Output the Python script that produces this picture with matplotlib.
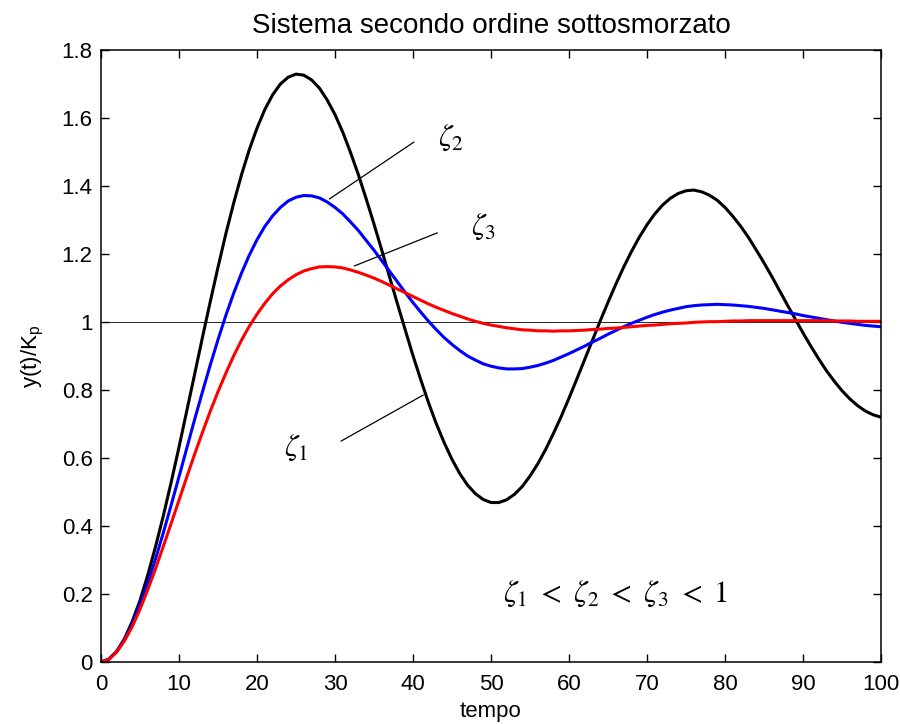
import numpy as np
import matplotlib.pyplot as plt

plt.rcParams['font.family'] = ['Liberation Sans', 'DejaVu Sans']
plt.rcParams['mathtext.fontset'] = 'stix'

# time axis and the three step responses
t = np.arange(0, 101)
y_zeta1 = [0, 0.008, 0.031, 0.068, 0.119, 0.181, 0.256, 0.340, 0.431, 0.529,
           0.632, 0.739, 0.846, 0.954, 1.059, 1.161, 1.259, 1.349, 1.432, 1.506,
           1.570, 1.625, 1.668, 1.700, 1.720, 1.729, 1.726, 1.712, 1.688, 1.653,
           1.610, 1.558, 1.498, 1.433, 1.362, 1.288, 1.211, 1.132, 1.054, 0.977,
           0.901, 0.830, 0.762, 0.700, 0.645, 0.596, 0.554, 0.520, 0.495, 0.478,
           0.469, 0.469, 0.477, 0.493, 0.516, 0.547, 0.583, 0.625, 0.672, 0.722,
           0.776, 0.832, 0.889, 0.946, 1.003, 1.058, 1.111, 1.161, 1.207, 1.249,
           1.286, 1.318, 1.344, 1.364, 1.378, 1.386, 1.388, 1.383, 1.373, 1.358,
           1.337, 1.311, 1.282, 1.249, 1.212, 1.174, 1.134, 1.092, 1.050, 1.009,
           0.968, 0.929, 0.892, 0.857, 0.826, 0.798, 0.774, 0.754, 0.738, 0.727,
           0.720]
y_zeta2 = [0, 0.008, 0.030, 0.065, 0.111, 0.168, 0.233, 0.304, 0.381, 0.462,
           0.545, 0.629, 0.713, 0.794, 0.873, 0.948, 1.019, 1.084, 1.143, 1.196,
           1.242, 1.281, 1.312, 1.337, 1.356, 1.367, 1.372, 1.371, 1.365, 1.353,
           1.337, 1.318, 1.294, 1.269, 1.240, 1.211, 1.180, 1.149, 1.118, 1.087,
           1.057, 1.029, 1.002, 0.977, 0.954, 0.934, 0.916, 0.900, 0.888, 0.877,
           0.870, 0.865, 0.862, 0.862, 0.863, 0.867, 0.872, 0.879, 0.887, 0.897,
           0.907, 0.918, 0.929, 0.941, 0.952, 0.964, 0.975, 0.986, 0.996, 1.005,
           1.014, 1.022, 1.029, 1.035, 1.040, 1.045, 1.048, 1.050, 1.051, 1.052,
           1.051, 1.050, 1.048, 1.046, 1.043, 1.040, 1.036, 1.032, 1.028, 1.024,
           1.019, 1.015, 1.011, 1.007, 1.003, 0.999, 0.996, 0.993, 0.990, 0.988,
           0.986]
y_zeta3 = [0, 0.008, 0.029, 0.062, 0.104, 0.155, 0.213, 0.275, 0.341, 0.408,
           0.476, 0.544, 0.611, 0.675, 0.737, 0.795, 0.849, 0.900, 0.946, 0.987,
           1.023, 1.055, 1.083, 1.106, 1.124, 1.139, 1.150, 1.157, 1.162, 1.163,
           1.162, 1.159, 1.153, 1.146, 1.138, 1.129, 1.119, 1.108, 1.097, 1.086,
           1.075, 1.064, 1.053, 1.043, 1.034, 1.025, 1.017, 1.009, 1.002, 0.996,
           0.991, 0.987, 0.983, 0.980, 0.977, 0.976, 0.974, 0.974, 0.973, 0.974,
           0.974, 0.975, 0.976, 0.978, 0.979, 0.981, 0.982, 0.984, 0.986, 0.988,
           0.990, 0.991, 0.993, 0.995, 0.996, 0.997, 0.999, 1.000, 1.001, 1.001,
           1.002, 1.003, 1.003, 1.004, 1.004, 1.004, 1.004, 1.004, 1.004, 1.004,
           1.004, 1.004, 1.004, 1.004, 1.003, 1.003, 1.003, 1.002, 1.002, 1.002,
           1.002]

xticks = [0, 10, 20, 30, 40, 50, 60, 70, 80, 90, 100]
yticks = [0, 0.2, 0.4, 0.6, 0.8, 1.0, 1.2, 1.4, 1.6, 1.8]
ytick_labels = ['0', '0.2', '0.4', '0.6', '0.8', '1', '1.2', '1.4', '1.6', '1.8']

# annotation pointers: (label, label pos, line start, line end)
notes = [
    (r'$\zeta_2$', (43.2, 1.54), (29.3, 1.362), (40.1, 1.529)),
    (r'$\zeta_3$', (47.4, 1.28), (32.5, 1.165), (43.1, 1.262)),
    (r'$\zeta_1$', (23.5, 0.63), (30.8, 0.650), (41.3, 0.785)),
]

fig = plt.figure(figsize=(9, 7.24), dpi=100)
ax = fig.add_axes([101 / 900, 1 - 662 / 724, 780 / 900, 612 / 724])

ax.axhline(1, color='black', lw=0.6, zorder=1)
ax.plot(t, y_zeta1, color='black', lw=2.2)
ax.plot(t, y_zeta2, color='blue', lw=2.2)
ax.plot(t, y_zeta3, color='red', lw=2.2)

for label, pos, p0, p1 in notes:
    ax.plot([p0[0], p1[0]], [p0[1], p1[1]], color='black', lw=0.9)
    ax.text(pos[0], pos[1], label, fontsize=22, ha='left', va='center')

ax.text(51.6, 0.20, r'$\zeta_1\ <\ \zeta_2\ <\ \zeta_3\ <\ 1$', fontsize=22,
        ha='left', va='center')

ax.set_xlim(0, 100)
ax.set_ylim(0, 1.8)
ax.set_xticks(xticks)
ax.set_yticks(yticks)
ax.set_yticklabels(ytick_labels)
ax.tick_params(direction='in', top=True, right=True, length=6, width=1,
               labelsize=16)
ax.tick_params(axis='x', pad=9)
ax.tick_params(axis='y', pad=6)
for s in ax.spines.values():
    s.set_linewidth(1.1)

ax.set_title('Sistema secondo ordine sottosmorzato', fontsize=20, pad=12)
ax.set_xlabel('tempo', fontsize=16, labelpad=4)
ax.set_ylabel(r'y(t)/K$_\mathregular{p}$', fontsize=16, labelpad=12)

fig.savefig('out.png', dpi=100)
